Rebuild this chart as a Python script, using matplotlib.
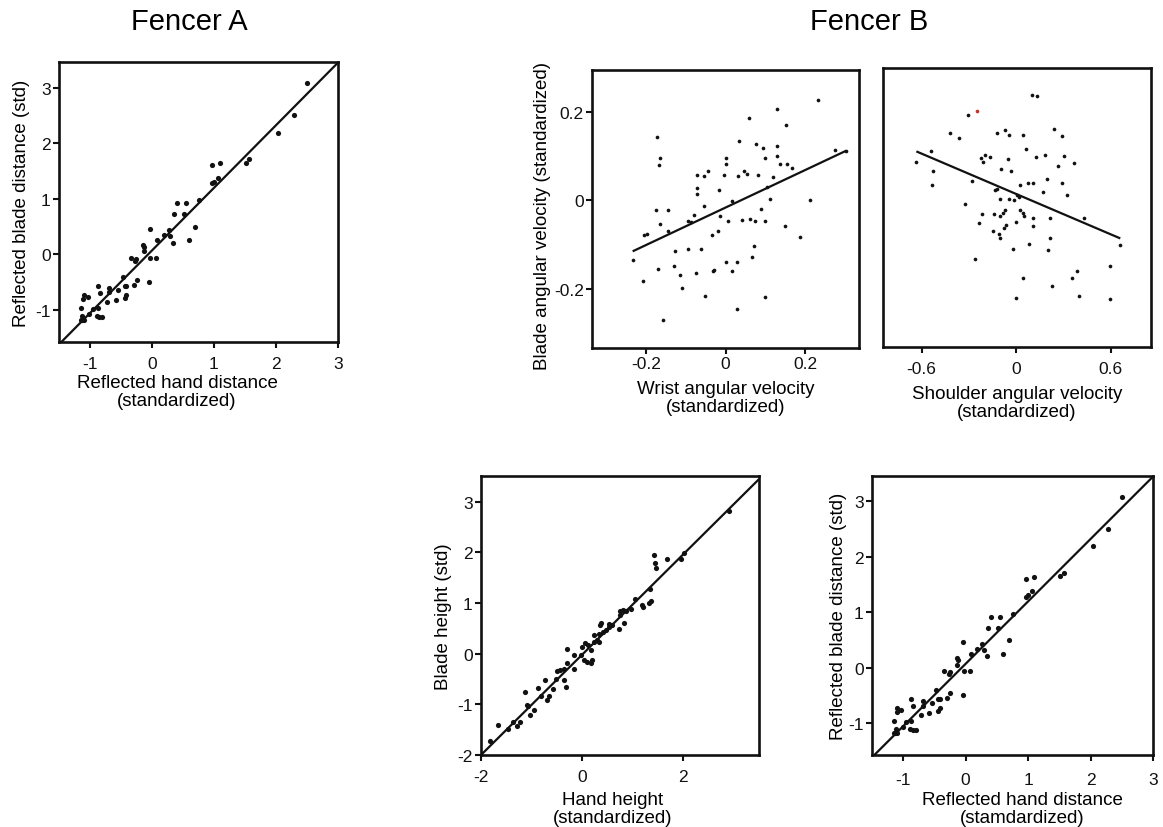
import numpy as np
import matplotlib
matplotlib.use('Agg')
import matplotlib.pyplot as plt

plt.rcParams['font.family'] = ['Liberation Sans', 'DejaVu Sans']
plt.rcParams['axes.unicode_minus'] = False

# reflected hand / blade distance (Fencer A, repeated for Fencer B bottom right)
dist_hand = [2.497, 2.283, 2.032, 1.513, 1.567, 0.968, 1.091, 1.070, 1.005, 0.973,
             0.759, 0.551, 0.401, 0.695, 0.513, 0.358, 0.599, 0.337, 0.267, 0.294,
             0.187, 0.080, -0.037, 0.070, -0.027, -0.043, -0.144, -0.123, -0.134, -0.257,
             -0.267, -0.342, -0.246, -0.471, -0.439, -0.412, -0.294, -0.412, -0.439, -0.545,
             -0.583, -0.690, -0.690, -0.722, -0.877, -0.840, -0.877, -0.893, -0.802, -0.850,
             -0.957, -1.096, -1.032, -1.107, -1.150, -1.011, -1.123, -1.150, -1.096, -1.128]
dist_blade = [3.079, 2.501, 2.189, 1.648, 1.714, 1.606, 1.636, 1.377, 1.305, 1.275,
              0.974, 0.920, 0.914, 0.493, 0.716, 0.716, 0.253, 0.204, 0.433, 0.325,
              0.343, 0.253, 0.463, -0.060, -0.060, -0.499, 0.174, 0.132, 0.054, -0.084,
              -0.120, -0.060, -0.457, -0.403, -0.565, -0.565, -0.559, -0.740, -0.782, -0.637,
              -0.830, -0.613, -0.686, -0.860, -0.565, -0.698, -0.962, -1.106, -1.130, -1.130,
              -0.980, -0.740, -0.770, -0.806, -0.974, -1.070, -1.118, -1.179, -1.179, -1.191]
dist_fit = (1.127, 0.068)  # slope, intercept

# wrist angular velocity vs blade angular velocity
wrist_x = [-0.233, -0.208, -0.204, -0.197, -0.172, -0.168, -0.165, -0.174, -0.164, -0.170,
           -0.156, -0.145, -0.144, -0.127, -0.129, -0.114, -0.110, -0.095, -0.095, -0.087,
           -0.078, -0.074, -0.071, -0.072, -0.072, -0.062, -0.054, -0.053, -0.045, -0.052,
           -0.032, -0.030, -0.034, -0.018, -0.016, -0.015, -0.005, 0.001, 0.001, 0.000,
           0.007, 0.016, 0.016, 0.029, 0.029, 0.031, 0.035, 0.042, 0.047, 0.053,
           0.059, 0.066, 0.071, 0.062, 0.073, 0.077, 0.081, 0.089, 0.094, 0.098,
           0.098, 0.098, 0.103, 0.111, 0.119, 0.130, 0.130, 0.130, 0.136, 0.150,
           0.151, 0.155, 0.168, 0.187, 0.213, 0.232, 0.275, 0.303]
wrist_y = [-0.135, -0.183, -0.079, -0.077, 0.142, 0.080, 0.096, -0.021, -0.054, -0.155,
           -0.269, -0.021, -0.070, -0.114, -0.147, -0.169, -0.197, -0.046, -0.109, -0.048,
           -0.034, -0.163, 0.057, 0.028, 0.014, -0.109, 0.054, -0.012, 0.067, -0.216,
           -0.159, -0.157, -0.079, -0.069, 0.024, -0.035, 0.057, 0.096, 0.082, -0.139,
           -0.047, -0.160, -0.001, -0.140, -0.246, 0.054, 0.133, -0.044, 0.066, 0.060,
           0.186, -0.127, -0.104, -0.042, -0.047, 0.127, 0.057, -0.020, 0.119, 0.095,
           -0.047, -0.218, 0.030, 0.003, 0.052, 0.205, 0.122, 0.101, 0.083, -0.058,
           0.171, 0.083, 0.074, -0.082, 0.000, 0.226, 0.114, 0.112]
wrist_fit = (0.4235, -0.0163)

# shoulder angular velocity vs blade angular velocity
shoulder_x = [-0.633, -0.542, -0.529, -0.531, -0.419, -0.364, -0.307, -0.281, -0.326, -0.260,
              -0.237, -0.218, -0.220, -0.212, -0.195, -0.165, -0.142, -0.144, -0.135, -0.123,
              -0.121, -0.108, -0.099, -0.099, -0.097, -0.102, -0.080, -0.070, -0.070, -0.074,
              -0.061, -0.049, -0.042, -0.042, -0.030, -0.015, -0.017, 0.000, 0.000, 0.004,
              0.017, 0.028, 0.028, 0.042, 0.044, 0.049, 0.047, 0.066, 0.078, 0.083,
              0.102, 0.110, 0.106, 0.106, 0.127, 0.135, 0.171, 0.184, 0.197, 0.214,
              0.216, 0.203, 0.231, 0.243, 0.269, 0.294, 0.292, 0.303, 0.322, 0.356,
              0.370, 0.387, 0.400, 0.434, 0.597, 0.595, 0.662]
shoulder_y = [0.082, 0.107, 0.063, 0.030, 0.148, 0.137, 0.189, 0.040, -0.012, -0.136,
              -0.054, -0.034, 0.092, 0.082, 0.098, 0.095, -0.033, -0.073, 0.020, 0.022,
              0.148, -0.079, -0.089, -0.039, 0.066, 0.000, -0.031, -0.025, 0.155, -0.066,
              -0.058, 0.089, 0.144, 0.000, 0.063, -0.002, -0.113, -0.051, -0.224, 0.009,
              0.003, 0.030, -0.025, 0.144, -0.032, -0.039, -0.177, 0.112, 0.036, -0.102,
              0.234, 0.036, -0.042, -0.061, 0.094, 0.230, 0.015, 0.098, 0.045, -0.042,
              -0.087, -0.115, -0.196, 0.158, 0.073, 0.035, 0.141, 0.096, 0.009, -0.179,
              0.080, -0.162, -0.218, -0.043, -0.151, -0.225, -0.104]
shoulder_red = (-0.250, 0.197)
shoulder_fit = (-0.151, 0.011)

# hand height vs blade height
height_hand = [-1.822, -1.664, -1.467, -1.362, -1.283, -1.230, -1.138, -1.099, -1.072, -1.033,
               -0.954, -0.875, -0.822, -0.743, -0.704, -0.658, -0.572, -0.526, -0.493, -0.441,
               -0.362, -0.349, -0.309, -0.296, -0.296, -0.164, -0.151, -0.013, 0.000, 0.033,
               0.066, 0.099, 0.112, 0.178, 0.197, 0.184, 0.243, 0.230, 0.296, 0.329,
               0.329, 0.362, 0.375, 0.414, 0.480, 0.526, 0.539, 0.592, 0.724, 0.743,
               0.757, 0.809, 0.822, 0.868, 0.967, 1.053, 1.184, 1.204, 1.316, 1.349,
               1.368, 1.414, 1.467, 1.447, 1.678, 1.954, 2.020, 2.914]
height_blade = [-1.714, -1.417, -1.496, -1.351, -1.430, -1.351, -0.758, -1.022, -1.035, -1.206,
                -1.121, -0.679, -0.837, -0.527, -0.923, -0.837, -0.692, -0.494, -0.336, -0.330,
                -0.297, -0.527, -0.659, 0.099, -0.185, -0.033, -0.297, -0.033, 0.132, -0.132,
                0.211, -0.165, 0.165, -0.178, -0.119, 0.066, 0.376, 0.231, 0.264, 0.396,
                0.231, 0.560, 0.613, 0.428, 0.461, 0.593, 0.527, 0.560, 0.481, 0.758,
                0.837, 0.857, 0.613, 0.837, 0.890, 1.088, 0.956, 0.923, 1.009, 1.285,
                1.035, 1.945, 1.701, 1.793, 1.879, 1.866, 1.991, 2.815]
height_fit = (0.9905, -0.019)

W, H = 1163, 828
fig = plt.figure(figsize=(W / 100, H / 100), dpi=100)


def px_axes(l, t, r, b):
    return fig.add_axes([l / W, 1 - b / H, (r - l) / W, (b - t) / H])


def style(ax, xpad=2):
    for s in ax.spines.values():
        s.set_linewidth(1.9)
        s.set_color('#111111')
    ax.tick_params(direction='out', length=4, width=1.5, labelsize=12.5,
                   colors='#111111', pad=2)
    ax.tick_params(axis='x', pad=xpad)


def fit_line(ax, fit, x0, x1):
    xs = np.array([x0, x1])
    ax.plot(xs, fit[0] * xs + fit[1], color='#111111', lw=1.6, solid_capstyle='butt')


def dist_panel(ax, xlab, xpad, xlpad, ylpad, xlx):
    style(ax, xpad)
    ax.scatter(dist_hand, dist_blade, s=14, color='#111111', lw=0, zorder=3)
    ax.set_xlim(-1.5, 3.0)
    ax.set_ylim(-1.58, 3.46)
    fit_line(ax, dist_fit, -1.5, 3.0)
    ax.set_xticks([-1, 0, 1, 2, 3])
    ax.set_yticks([-1, 0, 1, 2, 3])
    ax.set_xlabel(xlab, fontsize=13.5, labelpad=xlpad, linespacing=1.1)
    ax.xaxis.label.set_x(xlx)
    ax.set_ylabel('Reflected blade distance (std)', fontsize=13.5, labelpad=ylpad)


# Fencer A
axA = px_axes(59, 63, 338, 343)
dist_panel(axA, 'Reflected hand distance\n(standardized)', 6.3, 2, 4, 0.423)
fig.text(189 / W, 1 - 22 / H, 'Fencer A', ha='center', va='center', fontsize=21)

# Fencer B - wrist
axW = px_axes(592, 71, 859, 349)
style(axW)
axW.scatter(wrist_x, wrist_y, s=7, color='#111111', lw=0, zorder=3)
fit_line(axW, wrist_fit, min(wrist_x), max(wrist_x))
axW.set_xlim(-0.335, 0.335)
axW.set_ylim(-0.333, 0.294)
axW.set_xticks([-0.2, 0, 0.2])
axW.set_xticklabels(['-0.2', '0', '0.2'])
axW.set_yticks([-0.2, 0, 0.2])
axW.set_yticklabels(['-0.2', '0', '0.2'])
axW.set_xlabel('Wrist angular velocity\n(standardized)', fontsize=13.5, labelpad=6.5,
               linespacing=1.05)
axW.set_ylabel('Blade angular velocity (standardized)', fontsize=13.5, labelpad=2)
axW.yaxis.label.set_y(0.48)

# Fencer B - shoulder
axS = px_axes(883, 69, 1151, 348)
style(axS, 6)
axS.scatter(shoulder_x, shoulder_y, s=7, color='#111111', lw=0, zorder=3)
axS.scatter([shoulder_red[0]], [shoulder_red[1]], s=7, color='#c8302a', lw=0, zorder=3)
fit_line(axS, shoulder_fit, min(shoulder_x), max(shoulder_x))
axS.set_xlim(-0.845, 0.857)
axS.set_ylim(-0.333, 0.294)
axS.set_xticks([-0.6, 0, 0.6])
axS.set_xticklabels(['-0.6', '0', '0.6'])
axS.tick_params(axis='y', left=False, labelleft=False)
axS.set_xlabel('Shoulder angular velocity\n(standardized)', fontsize=13.5, labelpad=6.5,
               linespacing=1.05)
fig.text(869 / W, 1 - 22 / H, 'Fencer B', ha='center', va='center', fontsize=21)

# Fencer B - hand height
axH = px_axes(481, 477, 759, 756)
style(axH, 6.3)
axH.scatter(height_hand, height_blade, s=14, color='#111111', lw=0, zorder=3)
fit_line(axH, height_fit, -2.0, 3.5)
axH.set_xlim(-2.0, 3.5)
axH.set_ylim(-2.0, 3.51)
axH.set_xticks([-2, 0, 2])
axH.set_yticks([-2, -1, 0, 1, 2, 3])
axH.set_xlabel('Hand height\n(standardized)', fontsize=13.5, labelpad=4.5, linespacing=1.1)
axH.xaxis.label.set_x(0.475)
axH.set_ylabel('Blade height (std)', fontsize=13.5, labelpad=4)

# Fencer B - reflected distance
axR = px_axes(872, 477, 1153, 756)
dist_panel(axR, 'Reflected hand distance\n(stamdardized)', 8.5, 2.5, 0.5, 0.534)

fig.savefig('out.png', dpi=100)
